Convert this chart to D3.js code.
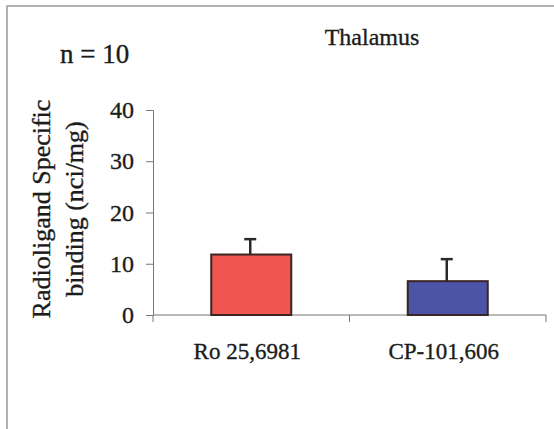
<!DOCTYPE html>
<html lang="en">
<head>
    <meta charset="UTF-8">
    <title>Thalamus</title>
    <script src="https://cdn.jsdelivr.net/npm/d3@7/dist/d3.min.js"></script>
    <style>
        body { margin: 0; background: #fff; }
        text { font-family: "Liberation Serif", "Times New Roman", serif; fill: #1c1c1c; stroke: #1c1c1c; stroke-width: 0.35px; }
    </style>
</head>
<body>
    <div class="bar-container"></div>
</body>
<script>
    // data
    const categories = ['Ro 25,6981', 'CP-101,606']
    const means = [11.8, 6.6]
    const errors = [3.0, 4.3]
    const colors = ['#f05550', '#4c54a8']
    const yTicks = [0, 10, 20, 30, 40]

    const width = 554
    const height = 429
    const svg = d3.select('.bar-container')
        .append('svg')
        .attr('width', width)
        .attr('height', height)

    const plot = { left: 153, right: 546, top: 110, bottom: 315 }

    // outer frame (only top and left visible)
    svg.append('path')
        .attr('d', `M7,${height} L7,6 L${width},6`)
        .attr('fill', 'none')
        .attr('stroke', '#999')
        .attr('stroke-width', 1.5)

    const xScale = d3.scaleBand().domain(categories).range([plot.left, plot.right])
    const yScale = d3.scaleLinear().domain([0, 40]).range([plot.bottom, plot.top])

    // y axis
    const yAxis = d3.axisLeft(yScale).tickValues(yTicks).tickSize(7).tickPadding(12)
    const gy = svg.append('g')
        .attr('transform', `translate(${plot.left},0)`)
        .call(yAxis)
    gy.select('.domain').attr('stroke', '#777')
    gy.selectAll('.tick line').attr('stroke', '#777')
    gy.selectAll('.tick text')
        .attr('font-size', 24)
        .attr('font-family', 'Liberation Serif')
        .attr('fill', '#1c1c1c')

    // x axis: baseline with ticks at band edges
    svg.append('line')
        .attr('x1', plot.left).attr('x2', plot.right)
        .attr('y1', yScale(0)).attr('y2', yScale(0))
        .attr('stroke', '#777').attr('stroke-width', 1.2)
    const edges = [xScale(categories[0])].concat(categories.map(c => xScale(c) + xScale.bandwidth()))
    svg.selectAll('.xtick')
        .data(edges)
        .enter().append('line')
        .attr('class', 'xtick')
        .attr('x1', d => d).attr('x2', d => d)
        .attr('y1', yScale(0)).attr('y2', yScale(0) + 7)
        .attr('stroke', '#777')

    // bars
    const barW = 80
    const cx = c => xScale(c) + xScale.bandwidth() / 2

    // error bars (upper only)
    const err = svg.selectAll('.err')
        .data(categories)
        .enter().append('g')
        .attr('class', 'err')
    err.append('line')
        .attr('x1', d => cx(d) - 1).attr('x2', d => cx(d) - 1)
        .attr('y1', (d, i) => yScale(means[i]))
        .attr('y2', (d, i) => yScale(means[i] + errors[i]))
        .attr('stroke', '#2a2a2a').attr('stroke-width', 2.5)
    err.append('line')
        .attr('x1', d => cx(d) - 7).attr('x2', d => cx(d) + 5)
        .attr('y1', (d, i) => yScale(means[i] + errors[i]))
        .attr('y2', (d, i) => yScale(means[i] + errors[i]))
        .attr('stroke', '#2a2a2a').attr('stroke-width', 2.5)

    svg.selectAll('.bar')
        .data(categories)
        .enter().append('rect')
        .attr('class', 'bar')
        .attr('x', d => cx(d) - barW / 2)
        .attr('width', barW)
        .attr('y', (d, i) => yScale(means[i]))
        .attr('height', (d, i) => yScale(0) - yScale(means[i]))
        .attr('fill', (d, i) => colors[i])
        .attr('stroke', '#3a2424')
        .attr('stroke-width', 2)

    // category labels
    svg.selectAll('.cat')
        .data(categories)
        .enter().append('text')
        .attr('class', 'cat')
        .attr('x', d => cx(d) - 4)
        .attr('y', 359)
        .attr('text-anchor', 'middle')
        .attr('font-size', 23)
        .text(d => d)

    // titles
    svg.append('text')
        .attr('x', 372).attr('y', 45)
        .attr('text-anchor', 'middle')
        .attr('font-size', 24)
        .text('Thalamus')

    svg.append('text')
        .attr('x', 60).attr('y', 63)
        .attr('font-size', 27)
        .text('n = 10')

    // y axis title, two lines
    const ylab = svg.append('text')
        .attr('transform', 'translate(50,209) rotate(-90)')
        .attr('text-anchor', 'middle')
        .attr('font-size', 26)
    ylab.append('tspan').attr('x', 0).attr('dy', 0).text('Radioligand Specific')
    ylab.append('tspan').attr('x', 0).attr('dy', 33).text('binding (nci/mg)')
</script>
</html>
